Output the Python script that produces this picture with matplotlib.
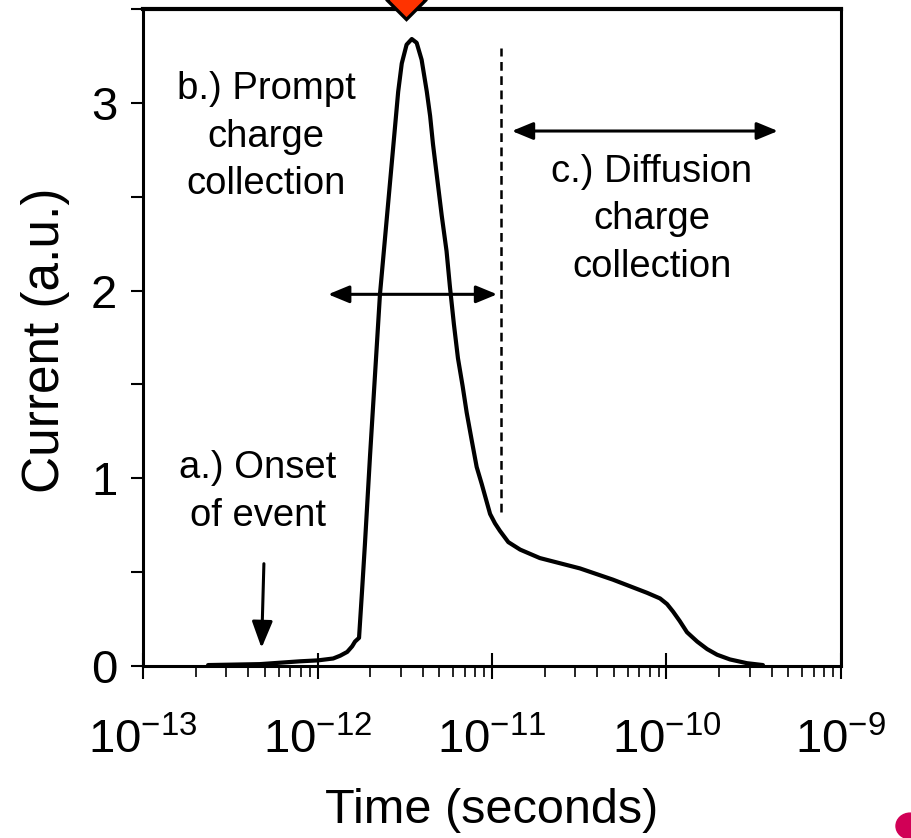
import matplotlib
matplotlib.use("Agg")
import matplotlib.pyplot as plt
from matplotlib.ticker import LogLocator, MultipleLocator, FixedLocator, NullFormatter
from matplotlib.patches import Circle

plt.rcParams['font.family'] = ['Liberation Sans', 'DejaVu Sans']
plt.rcParams['mathtext.fontset'] = 'custom'
plt.rcParams['mathtext.rm'] = 'Liberation Sans'
plt.rcParams['mathtext.it'] = 'Liberation Sans:italic'
plt.rcParams['mathtext.bf'] = 'Liberation Sans:bold'

# ---- data ----
time_s = [2.36e-13, 4.68e-13, 7.94e-13, 1.007e-12, 1.23e-12, 1.35e-12, 1.48e-12,
          1.58e-12, 1.64e-12, 1.73e-12, 1.80e-12, 1.87e-12, 2.00e-12, 2.28e-12,
          2.78e-12, 2.90e-12, 3.04e-12, 3.24e-12, 3.47e-12, 3.70e-12, 3.95e-12,
          4.23e-12, 4.42e-12, 4.59e-12, 5.15e-12, 5.49e-12, 5.74e-12, 6.05e-12,
          6.38e-12, 6.79e-12, 7.16e-12, 7.66e-12, 8.17e-12, 8.73e-12, 9.75e-12,
          1.04e-11, 1.11e-11, 1.24e-11, 1.45e-11, 1.88e-11, 2.07e-11, 3.19e-11,
          4.93e-11, 7.73e-11, 9.18e-11, 1.007e-10, 1.09e-10, 1.19e-10, 1.31e-10,
          1.50e-10, 1.71e-10, 1.95e-10, 2.31e-10, 2.89e-10, 3.57e-10]
current = [0.005, 0.01, 0.025, 0.03, 0.04, 0.055, 0.075,
           0.105, 0.13, 0.15, 0.40, 0.65, 1.12, 1.98,
           2.87, 3.06, 3.21, 3.31, 3.34, 3.32, 3.23,
           3.06, 2.93, 2.78, 2.40, 2.21, 2.02, 1.82,
           1.64, 1.49, 1.35, 1.20, 1.06, 0.97, 0.81,
           0.76, 0.72, 0.66, 0.62, 0.575, 0.565, 0.52,
           0.46, 0.39, 0.36, 0.33, 0.29, 0.24, 0.18,
           0.13, 0.09, 0.06, 0.035, 0.015, 0.005]

x_ticks = [1e-13, 1e-12, 1e-11, 1e-10, 1e-9]
y_ticks = [0, 1, 2, 3]
x_limits = (1e-13, 1e-9)
y_limits = (0, 3.5)

x_label = "Time (seconds)"
y_label = "Current (a.u.)"

label_a = "a.) Onset\nof event"
label_b = "b.) Prompt\ncharge\ncollection"
label_c = "c.) Diffusion\ncharge\ncollection"

onset_arrow_time = (4.93e-13, 4.78e-13)
onset_arrow_current = (0.545, 0.096)
prompt_arrow_time = (1.15e-12, 1.07e-11)
prompt_arrow_current = 1.98
diffusion_arrow_time = (1.30e-11, 4.35e-10)
diffusion_arrow_current = 2.85
divider_time = 1.12e-11
divider_current = (0.82, 3.29)
peak_marker_time = 3.2e-12
peak_marker_current = 3.55

# ---- figure ----
fig = plt.figure(figsize=(9.12, 8.38), dpi=100)
ax = fig.add_axes([143 / 912, 1 - 666 / 838, 698 / 912, 657 / 838])

ax.plot(time_s, current, color='black', lw=3.0, solid_capstyle='round',
        solid_joinstyle='round', zorder=3)
ax.set_xscale('log')
ax.set_xlim(*x_limits)
ax.set_ylim(*y_limits)

ax.xaxis.set_major_locator(FixedLocator(x_ticks))
ax.xaxis.set_minor_locator(LogLocator(base=10, subs=range(2, 10), numticks=20))
ax.xaxis.set_minor_formatter(NullFormatter())
ax.yaxis.set_major_locator(FixedLocator(y_ticks))
ax.yaxis.set_minor_locator(MultipleLocator(0.5))

for s in ax.spines.values():
    s.set_linewidth(2.2)
ax.spines['top'].set_linewidth(3.0)

ax.tick_params(axis='x', which='major', direction='inout', length=19, width=1.5,
               labelsize=34, pad=28)
ax.tick_params(axis='x', which='minor', direction='out', length=8, width=1.2)
ax.tick_params(axis='y', which='both', direction='out', length=8.6, width=1.5,
               labelsize=34, pad=10)

ax.set_xlabel(x_label, fontsize=35, labelpad=18)
ax.set_ylabel(y_label, fontsize=37)
ax.yaxis.set_label_coords(-0.104, 0.495)

# annotations
txt_kw = dict(fontsize=27.5, ha='center', va='top', multialignment='center',
              linespacing=1.42)
ax.text(5.07e-13, 3.17, label_b, **txt_kw)
ax.text(4.56e-13, 1.15, label_a, **txt_kw)
ax.text(8.26e-11, 2.73, label_c, **txt_kw)

arrow_kw = dict(lw=2.2, color='black', shrinkA=0, shrinkB=0)
ax.annotate('', xy=(onset_arrow_time[1], onset_arrow_current[1]),
            xytext=(onset_arrow_time[0], onset_arrow_current[0]),
            arrowprops=dict(arrowstyle='-|>,head_length=0.9,head_width=0.35',
                            mutation_scale=18, **arrow_kw))
ax.annotate('', xy=(prompt_arrow_time[1], prompt_arrow_current),
            xytext=(prompt_arrow_time[0], prompt_arrow_current),
            arrowprops=dict(arrowstyle='<|-|>,head_length=0.8,head_width=0.33',
                            mutation_scale=16, **arrow_kw))
ax.annotate('', xy=(diffusion_arrow_time[1], diffusion_arrow_current),
            xytext=(diffusion_arrow_time[0], diffusion_arrow_current),
            arrowprops=dict(arrowstyle='<|-|>,head_length=0.8,head_width=0.33',
                            mutation_scale=16, **arrow_kw))

ax.plot([divider_time, divider_time], list(divider_current), color='black',
        lw=1.8, linestyle=(0, (3.5, 2.2)), zorder=2)

ax.plot([peak_marker_time], [peak_marker_current], marker='D', ms=19,
        markerfacecolor='#FF3300', markeredgecolor='black', markeredgewidth=2.4,
        clip_on=False, zorder=5)

# decorative dot bottom-right
fig.patches.append(Circle((910 / 912, 1 - 826 / 838), 14 / 912,
                          transform=fig.transFigure, color='#D10056'))

fig.savefig('out.png', dpi=100)
